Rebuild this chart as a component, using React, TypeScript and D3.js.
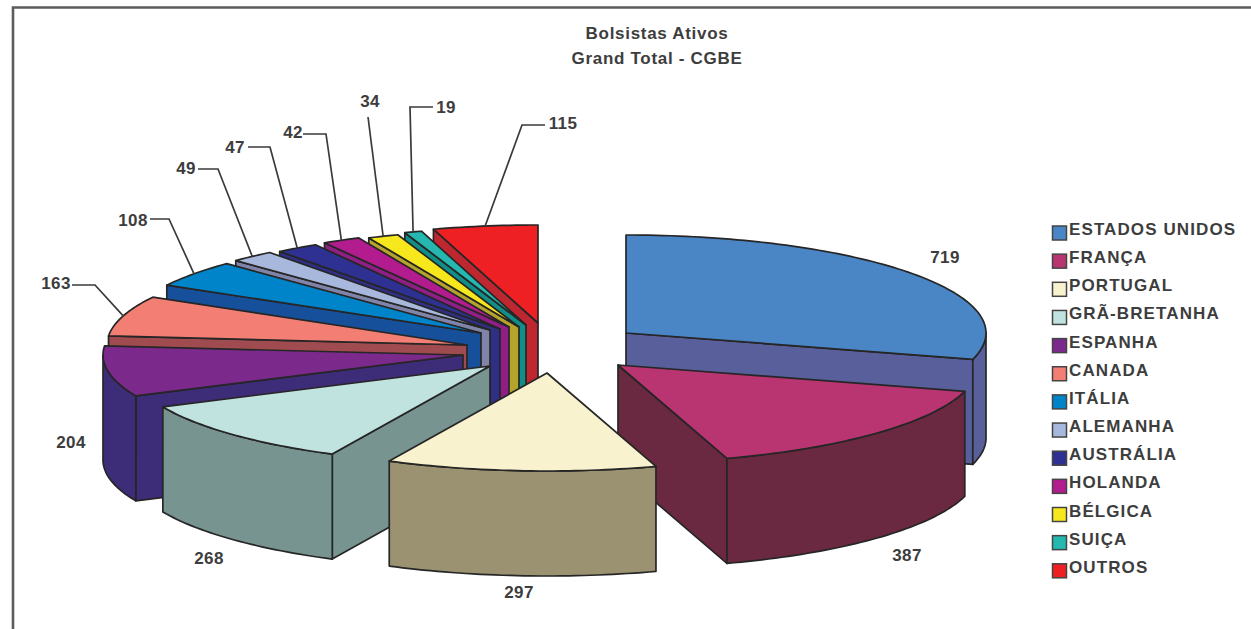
import React from "react";
import * as d3 from "d3";

const WIDTH = 1251;
const HEIGHT = 629;

const titleLines = ["Bolsistas Ativos", "Grand Total - CGBE"];

// Scholarship holders per destination, in the order they go round the pie.
const countries = [
  "ESTADOS UNIDOS", "FRANÇA", "PORTUGAL", "GRÃ-BRETANHA", "ESPANHA", "CANADA", "ITÁLIA",
  "ALEMANHA", "AUSTRÁLIA", "HOLANDA", "BÉLGICA", "SUIÇA", "OUTROS",
];
const holders = [719, 387, 297, 268, 204, 163, 108, 49, 47, 42, 34, 19, 115];

const topColors = [
  "#4a86c5", "#b83571", "#f8f2ce", "#c0e3df", "#7b2a8b", "#f37f74", "#0084c9",
  "#a8b8dd", "#2e3191", "#b31c8e", "#f7e81e", "#25b8b0", "#ee2024",
];
const wallColors = [
  "#585f9b", "#6a2841", "#9a9270", "#789491", "#3d2c78", "#a04b4f", "#17509a",
  "#7f84a8", "#2f2f85", "#8f1f85", "#b5a42c", "#118e88", "#be2730",
];

// Where each exploded wedge has its tip on the page.
const tipX = [626, 618, 547, 490, 463, 467, 481, 490, 500, 509, 519, 526, 538];
const tipY = [333, 365, 373, 366, 355, 345, 333, 330, 329, 327, 327, 325, 323];

// Wedges are painted from the back of the pie to the front.
const paintOrder = [12, 11, 10, 9, 8, 7, 6, 5, 4, 0, 3, 1, 2];

// Value labels: position, and the elbow of the leader line where there is one.
const labelX = [945, 907, 519, 209, 71, 56, 133, 186, 235, 293, 370, 446, 563];
const labelY = [257, 555, 592, 558, 442, 283, 220, 168, 147, 132, 101, 107, 123];
const leaderElbow: number[][][] = [
  [], [], [], [], [],
  [[95, 285], [72, 285]],
  [[169, 219], [150, 219]],
  [[218, 169], [198, 169]],
  [[270, 147], [248, 147]],
  [[326, 134], [303, 134]],
  [[368, 117]],
  [[410, 107], [433, 107]],
  [[522, 125], [545, 125]],
];

const RX = 360;
const RY = 98;
const DEPTH = 105;
const INK = "#262626";
const TEXT = "#3d3d3d";
const FONT = "'Liberation Sans', Arial, sans-serif";

const pie = d3.pie<number>().sort(null).startAngle(0).endAngle(2 * Math.PI);
const wedges = pie(holders);

const line = d3.line<[number, number]>();

function rim(i: number, a: number): [number, number] {
  return [tipX[i] + RX * Math.sin(a), tipY[i] - RY * Math.cos(a)];
}

function arcPoints(i: number, a0: number, a1: number): [number, number][] {
  const steps = Math.max(2, Math.ceil((a1 - a0) / (Math.PI / 150)));
  return d3.range(steps + 1).map((k) => rim(i, a0 + ((a1 - a0) * k) / steps));
}

const drop = (p: [number, number]): [number, number] => [p[0], p[1] + DEPTH];

function radialWall(i: number, a: number): string {
  const tip: [number, number] = [tipX[i], tipY[i]];
  const edge = rim(i, a);
  return line([tip, edge, drop(edge), drop(tip)]) + "Z";
}

function Wedge({ i }: { i: number }) {
  const { startAngle: a0, endAngle: a1 } = wedges[i];
  const tip: [number, number] = [tipX[i], tipY[i]];
  const paint = { stroke: INK, strokeWidth: 1.7, strokeLinejoin: "round" as const };
  const walls: string[] = [];
  // Only the cut faces and rim that turn towards the viewer are visible.
  if (a0 > Math.PI && a0 < 2 * Math.PI) walls.push(radialWall(i, a0));
  if (a1 > 0 && a1 < Math.PI) walls.push(radialWall(i, a1));
  const rimStart = Math.max(a0, Math.PI / 2);
  const rimEnd = Math.min(a1, (3 * Math.PI) / 2);
  if (rimEnd > rimStart) {
    const upper = arcPoints(i, rimStart, rimEnd);
    walls.push(line([...upper, ...upper.slice().reverse().map(drop)]) + "Z");
  }
  return (
    <g>
      {walls.map((d, k) => (
        <path key={k} d={d} fill={wallColors[i]} {...paint} />
      ))}
      <path d={line([tip, ...arcPoints(i, a0, a1)]) + "Z"} fill={topColors[i]} {...paint} />
    </g>
  );
}

const textStyle = { fontFamily: FONT, fontWeight: 700, fontSize: 17, fill: TEXT };

export default function App() {
  return (
    <svg
      width={WIDTH}
      height={HEIGHT}
      viewBox={`0 0 ${WIDTH} ${HEIGHT}`}
      style={{ position: "absolute", left: 0, top: 0, background: "#fff" }}
    >
      {/* page frame */}
      <path d={`M13 ${HEIGHT}V7.5H${WIDTH}`} fill="none" stroke="#5c5c5c" strokeWidth={2.6} />

      {titleLines.map((t, k) => (
        <text key={t} x={657} y={39 + k * 25} textAnchor="middle" letterSpacing={0.7} {...textStyle}>
          {t}
        </text>
      ))}

      {paintOrder.map((i) => (
        <Wedge key={i} i={i} />
      ))}

      {holders.map((v, i) => {
        const elbows = leaderElbow[i];
        const mid = (wedges[i].startAngle + wedges[i].endAngle) / 2;
        const pts = [rim(i, mid), ...(elbows as [number, number][])];
        return (
          <g key={countries[i]}>
            {elbows.length > 0 && (
              <path d={line(pts) ?? ""} fill="none" stroke="#3a3a3a" strokeWidth={1.7} />
            )}
            <text x={labelX[i]} y={labelY[i] + 6} textAnchor="middle" letterSpacing={0.4} {...textStyle}>
              {v}
            </text>
          </g>
        );
      })}

      {countries.map((c, i) => {
        const y = 233 + i * 28.15;
        return (
          <g key={c}>
            <rect x={1052.5} y={y - 7} width={14} height={14} fill={topColors[i]} stroke="#444" strokeWidth={1.5} />
            <text x={1069} y={y + 2} letterSpacing={1.1} {...textStyle}>
              {c}
            </text>
          </g>
        );
      })}
    </svg>
  );
}
